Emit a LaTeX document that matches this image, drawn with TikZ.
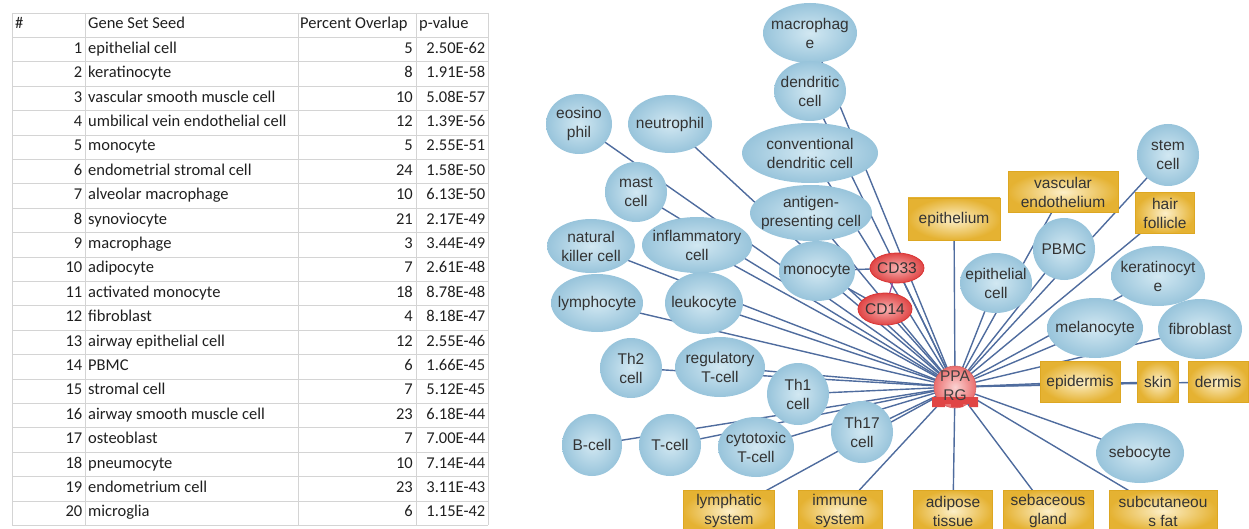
\documentclass[tikz,border=0pt]{standalone}
\usepackage{fontspec}
\setmainfont{Liberation Sans}
\newfontfamily\tabfont{Carlito}
\usetikzlibrary{shapes.geometric}
\definecolor{edgec}{HTML}{4F6C9E}
\definecolor{gridc}{HTML}{D4D4D4}
\definecolor{cellin}{HTML}{D2E8F2}
\definecolor{cellout}{HTML}{98C4DB}
\definecolor{boxin}{HTML}{FCEFC8}
\definecolor{boxout}{HTML}{E5B232}
\definecolor{boxdraw}{HTML}{DDA722}
\definecolor{redin}{HTML}{F7B2B2}
\definecolor{redout}{HTML}{E04545}
\definecolor{reddraw}{HTML}{D83434}
\definecolor{ppin}{HTML}{FBD3D3}
\definecolor{ppout}{HTML}{EA6E6E}
\definecolor{txt}{HTML}{333333}
\definecolor{purp}{HTML}{A04A9E}
\pgfdeclarelayer{bg}
\pgfsetlayers{bg,main}
\begin{document}
\begin{tikzpicture}[x=1pt,y=-1pt,
  netfont/.style={font=\fontsize{15.5}{19}\selectfont, text=txt, align=center},
  cell/.style 2 args={shape=ellipse, netfont, inner xsep=-30pt, inner ysep=-16pt,
     minimum width=#1pt, minimum height=#2pt, inner color=cellin, outer color=cellout},
  tissue/.style 2 args={shape=rectangle, netfont, inner sep=0pt,
     minimum width=#1pt, minimum height=#2pt, inner color=boxin, outer color=boxout, draw=boxdraw, line width=0.8pt},
  prot/.style 2 args={shape=ellipse, netfont, text=black!80, inner xsep=-20pt, inner ysep=-10pt,
     minimum width=#1pt, minimum height=#2pt, inner color=redin, outer color=redout, draw=reddraw, line width=0.8pt},
  edge/.style={draw=edgec, line width=1.4pt},
  tabtxt/.style={font=\tabfont\fontsize{16.5}{19}\selectfont, text=black!88, inner sep=0pt, text height=11pt, text depth=3.5pt},
  gridline/.style={draw=gridc, line width=0.9pt}
]
\useasboundingbox (0,0) rectangle (1249,529);

% ---------------- table ----------------
\foreach \k in {0,...,21} {
  \draw[gridline] (12,{13+24.4*\k}) -- (488,{13+24.4*\k});
}
\foreach \xx in {12,85,298,416,488} {
  \draw[gridline] (\xx,13) -- (\xx,{13+24.4*21});
}
\node[tabtxt, anchor=west] (h1) at (15,{13+24.4*0.5}) {\#};
\node[tabtxt, anchor=west] (h2) at (88,{13+24.4*0.5}) {Gene Set Seed};
\node[tabtxt, anchor=west] (h3) at (300,{13+24.4*0.5}) {Percent Overlap};
\node[tabtxt, anchor=west] (h4) at (419,{13+24.4*0.5}) {p-value};
\foreach \g/\p/\v [count=\i] in {
  epithelial cell/5/2.50E-62,
  keratinocyte/8/1.91E-58,
  vascular smooth muscle cell/10/5.08E-57,
  umbilical vein endothelial cell/12/1.39E-56,
  monocyte/5/2.55E-51,
  endometrial stromal cell/24/1.58E-50,
  alveolar macrophage/10/6.13E-50,
  synoviocyte/21/2.17E-49,
  macrophage/3/3.44E-49,
  adipocyte/7/2.61E-48,
  activated monocyte/18/8.78E-48,
  fibroblast/4/8.18E-47,
  airway epithelial cell/12/2.55E-46,
  PBMC/6/1.66E-45,
  stromal cell/7/5.12E-45,
  airway smooth muscle cell/23/6.18E-44,
  osteoblast/7/7.00E-44,
  pneumocyte/10/7.14E-44,
  endometrium cell/23/3.11E-43,
  microglia/6/1.15E-42} {
  \node[tabtxt, anchor=east] (r\i a) at (82.5,{13+24.4*(\i+0.5)}) {\i};
  \node[tabtxt, anchor=west] (r\i b) at (88,{13+24.4*(\i+0.5)}) {\g};
  \node[tabtxt, anchor=east] (r\i c) at (413,{13+24.4*(\i+0.5)}) {\p};
  \node[tabtxt, anchor=east] (r\i d) at (485.5,{13+24.4*(\i+0.5)}) {\v};
}

% ---------------- network nodes ----------------
\node[cell={94}{60}] (mac) at (810,33) {macrophag\\e};
\node[cell={72}{60}] (dc) at (810,91) {dendritic\\cell};
\node[cell={66}{60}] (eos) at (579,124) {eosino\\phil};
\node[cell={84}{58}] (neu) at (670,124) {neutrophil};
\node[cell={136}{60}] (cdc) at (810,153) {conventional\\dendritic cell};
\node[cell={62}{60}] (mast) at (636,192) {mast\\cell};
\node[cell={122}{56}] (apc) at (811,213) {antigen-\\presenting cell};
\node[cell={88}{54}] (nk) at (591,246) {natural\\killer cell};
\node[cell={110}{56}] (infl) at (697,245) {inflammatory\\cell};
\node[cell={76}{60}] (mono) at (817,271) {monocyte};
\node[cell={92}{58}] (lym) at (597,303) {lymphocyte};
\node[cell={78}{62}] (leu) at (704,303) {leukocyte};
\node[cell={62}{60}] (th2) at (631,368) {Th2\\cell};
\node[cell={90}{60}] (treg) at (720,367) {regulatory\\T-cell};
\node[cell={62}{62}] (th1) at (798,394) {Th1\\cell};
\node[cell={62}{62}] (th17) at (862,432) {Th17\\cell};
\node[cell={60}{62}] (bcell) at (592,445) {B-cell};
\node[cell={62}{62}] (tcell) at (670,445) {T-cell};
\node[cell={76}{60}] (ctl) at (756,447) {cytotoxic\\T-cell};
\node[cell={62}{62}] (stem) at (1168,155) {stem\\cell};
\node[cell={62}{62}] (pbmc) at (1064,249) {PBMC};
\node[cell={72}{60}] (epc) at (996,283) {epithelial\\cell};
\node[cell={94}{60}] (ker) at (1158,276) {keratinocyt\\e};
\node[cell={96}{60}] (mel) at (1095,328) {melanocyte};
\node[cell={84}{60}] (fib) at (1200,329) {fibroblast};
\node[cell={88}{60}] (seb) at (1140,453) {sebocyte};

\node[tissue={92}{42}] (epith) at (954,219) {epithelium};
\node[tissue={110}{41}] (vasc) at (1063,192) {vascular\\endothelium};
\node[tissue={59}{41}] (hair) at (1165,213) {hair\\follicle};
\node[tissue={80}{41}] (epid) at (1080,382) {epidermis};
\node[tissue={41}{41}] (skin) at (1158,382) {skin};
\node[tissue={60}{41}] (derm) at (1218,382) {dermis};
\node[tissue={91}{42}] (lymsys) at (729,511) {lymphatic\\system};
\node[tissue={84}{42}] (immsys) at (840,511) {immune\\system};
\node[tissue={79}{42}] (adip) at (953,511) {adipose\\tissue};
\node[tissue={90}{42}] (sebg) at (1048,511) {sebaceous\\gland};
\node[tissue={108}{42}] (subc) at (1163,511) {subcutaneou\\s fat};

\node[prot={54}{30}] (cd33) at (897,268) {CD33};
\node[prot={54}{32}] (cd14) at (885,309) {CD14};

\node[shape=circle, minimum size=42pt, inner sep=-10pt, inner color=ppin, outer color=ppout,
      draw=ppout!90!black, line width=0.6pt] (pparg) at (955,387) {};
\fill[redout] ([shift={(-23,10)}]pparg.center) -- ++(46,0) -- ++(0,10) -- ++(-9,0) -- ++(0,-3)
   -- ++(-6,0) -- ++(0,3) -- ++(-12,0) -- ++(0,-3) -- ++(-6,0) -- ++(0,3) -- ++(-13,0) -- cycle;
\node[netfont, text=black!75, inner sep=0pt] (ppt) at (955,386) {PPA\\RG};

% ---------------- edges ----------------
\begin{pgfonlayer}{bg}
\foreach \n in {mac,dc,eos,neu,cdc,mast,apc,nk,infl,mono,lym,leu,th2,treg,th1,th17,bcell,tcell,ctl,
  stem,pbmc,epc,ker,mel,fib,seb,epith,vasc,hair,epid,skin,derm,lymsys,immsys,adip,sebg,subc,cd33,cd14} {
  \draw[edge] (pparg.center) -- (\n.center);
}
\draw[edge] (mono.center) -- (cd33.center);
\draw[edge] (mono.center) -- (cd14.center);
\draw[draw=purp, line width=1.2pt] (cd33.center) -- (cd14.center);
\end{pgfonlayer}
\end{tikzpicture}
\end{document}
